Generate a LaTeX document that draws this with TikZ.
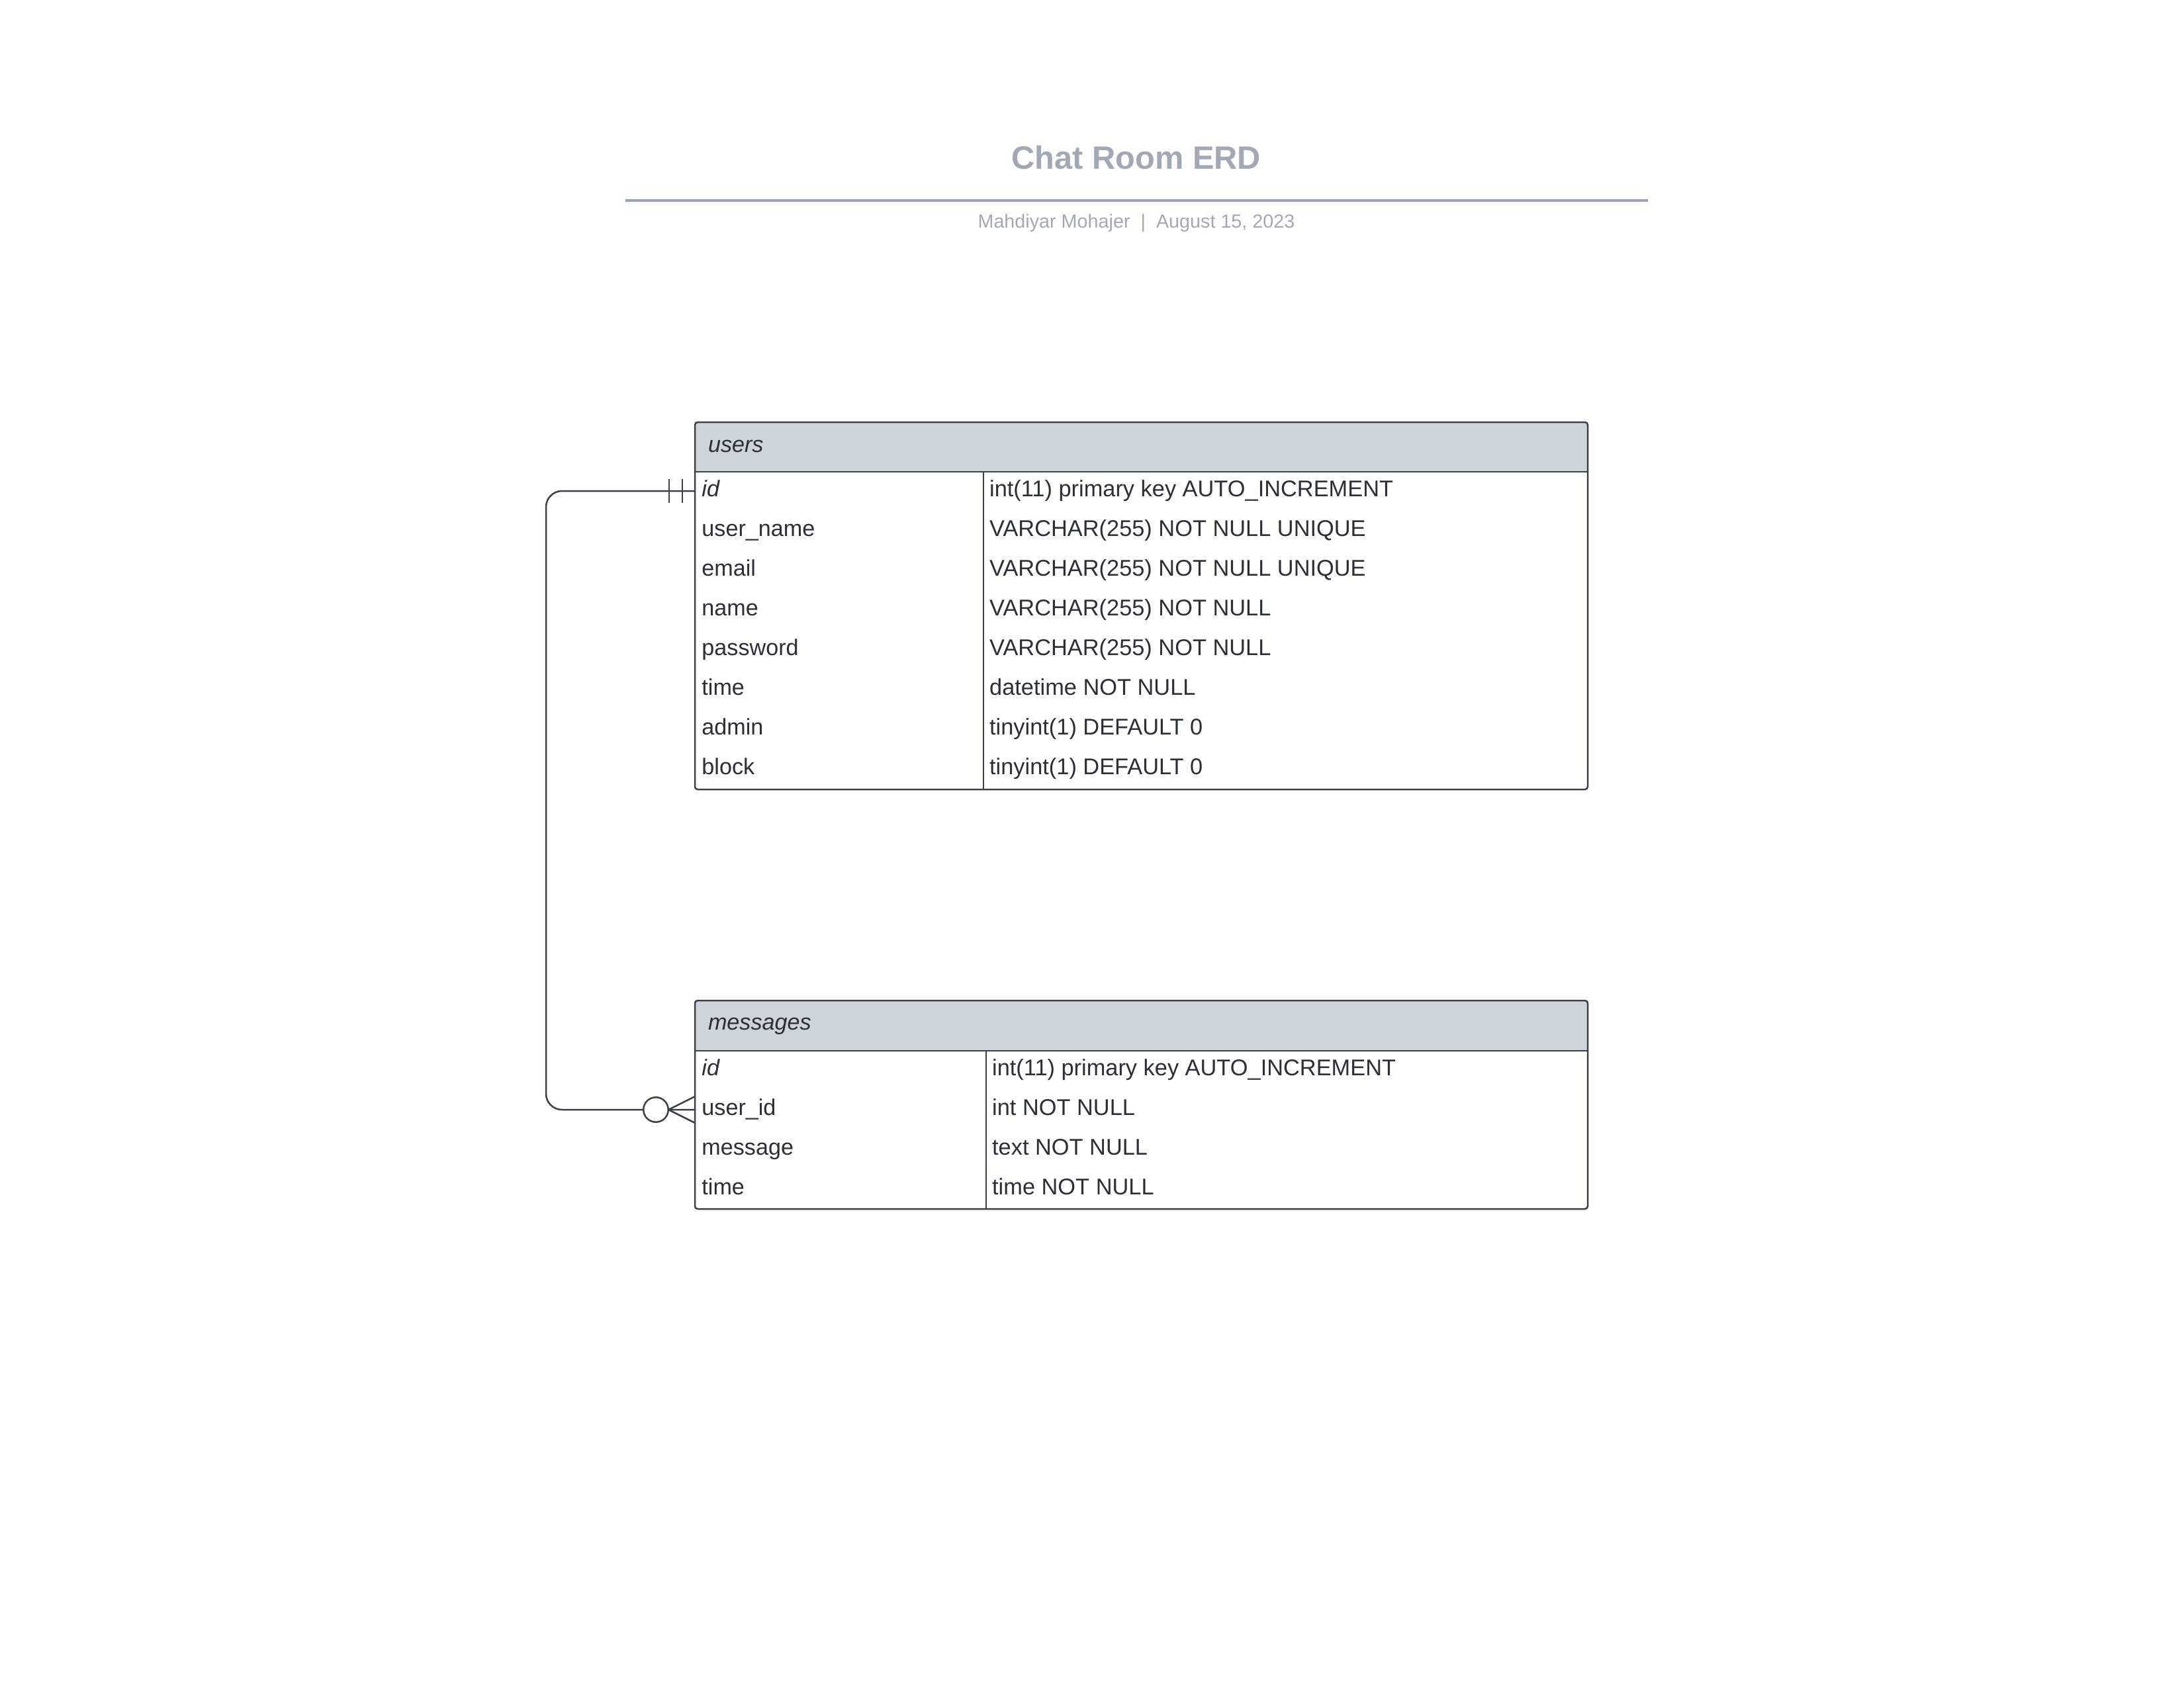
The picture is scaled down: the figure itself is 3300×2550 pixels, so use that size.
\documentclass[tikz,border=0pt]{standalone}
\usepackage{fontspec}
\setmainfont{Liberation Sans}
\usepackage{tikz}
\usetikzlibrary{calc,positioning}
\definecolor{inkgray}{HTML}{2B2F36}
\definecolor{edgegray}{HTML}{3B4049}
\definecolor{headfill}{HTML}{CED4DB}
\definecolor{titlegray}{HTML}{A3A9B4}
\tikzset{
    titletext/.style={
      text=titlegray,
      font=\fontsize{11.7}{14}\selectfont\bfseries},
    byline/.style={
      text=titlegray,
      font=\fontsize{6.9}{8}\selectfont},
    titlerule/.style={draw=titlegray!95!blue, line width=1pt},
    tableline/.style={draw=edgegray, line width=0.6pt, rounded corners=1pt},
    tabletitle/.style={
      anchor=west,
      inner xsep=4.6pt, inner ysep=0pt,
      text=inkgray,
      font=\fontsize{8.2}{9.8}\selectfont\itshape},
    fieldname/.style={
      anchor=west,
      inner xsep=2.3pt, inner ysep=0pt,
      text height=6pt, text depth=1.8pt,
      text=inkgray,
      font=\fontsize{8.2}{9.8}\selectfont},
    fieldtype/.style={fieldname, inner xsep=2pt, font=\fontsize{8.25}{9.8}\selectfont},
    relline/.style={draw=edgegray, line width=0.6pt, rounded corners=5.8pt},
}

\begin{document}
\begin{tikzpicture}[x=0.24pt, y=-0.24pt]
      \useasboundingbox (0,0) rectangle (3300,2550);
      \node[titletext] (title) at (1717,238) {Chat Room ERD};
      \draw[titlerule] (945,303) -- (2490,303);
      \node[byline] (author) at (1717,337) {Mahdiyar Mohajer~~|~~August 15, 2023};

      \fill[headfill] (1050,713) [rounded corners=1pt] -- (1050,638) -- (2399,638) -- (2399,713) [sharp corners] -- cycle;
      \draw[tableline] (1050,638) rectangle (2399,1193);
      \draw[tableline] (1050,713) -- (2399,713) (1486,713) -- (1486,1193);
      \node[tabletitle] (usersHead) at (1050,674) {users};
      \foreach \i/\fname/\ftype in {1/\textit{id}/int(11) primary key AUTO\_INCREMENT,
          2/user\_name/VARCHAR(255) NOT NULL UNIQUE,
          3/email/VARCHAR(255) NOT NULL UNIQUE,
          4/name/VARCHAR(255) NOT NULL,
          5/password/VARCHAR(255) NOT NULL,
          6/time/datetime NOT NULL,
          7/admin/tinyint(1) DEFAULT 0,
          8/block/tinyint(1) DEFAULT 0} {
        \node[fieldname] (userField\i) at (1050,{682+60*\i}) {\fname};
        \node[fieldtype] (userType\i) at (1486,{682+60*\i}) {\ftype};
      }

      \fill[headfill] (1050,1588) [rounded corners=1pt] -- (1050,1512) -- (2399,1512) -- (2399,1588) [sharp corners] -- cycle;
      \draw[tableline] (1050,1512) rectangle (2399,1827);
      \draw[tableline] (1050,1588) -- (2399,1588) (1490,1588) -- (1490,1827);
      \node[tabletitle] (msgHead) at (1050,1551) {messages};
      \foreach \i/\fname/\ftype in {1/\textit{id}/int(11) primary key AUTO\_INCREMENT,
          2/user\_id/int NOT NULL,
          3/message/text NOT NULL,
          4/time/time NOT NULL} {
        \node[fieldname] (msgField\i) at (1050,{1557+60*\i}) {\fname};
        \node[fieldtype] (msgType\i) at (1490,{1557+60*\i}) {\ftype};
      }

      \draw[relline] (userField1.west) -- ++(-225,0) |- (msgField2.west);
      \draw[relline] ($(userField1.west)+(-19,-18)$) -- ++(0,36);
      \draw[relline] ($(userField1.west)+(-39,-18)$) -- ++(0,36);
      \draw[relline] ($(msgField2.west)+(-40,0)$) -- ($(msgField2.west)+(0,-20)$);
      \draw[relline] ($(msgField2.west)+(-40,0)$) -- ($(msgField2.west)+(0,20)$);
      \draw[relline, fill=white] ($(msgField2.west)+(-59,0)$) circle (4.5pt);
\end{tikzpicture}
\end{document}
